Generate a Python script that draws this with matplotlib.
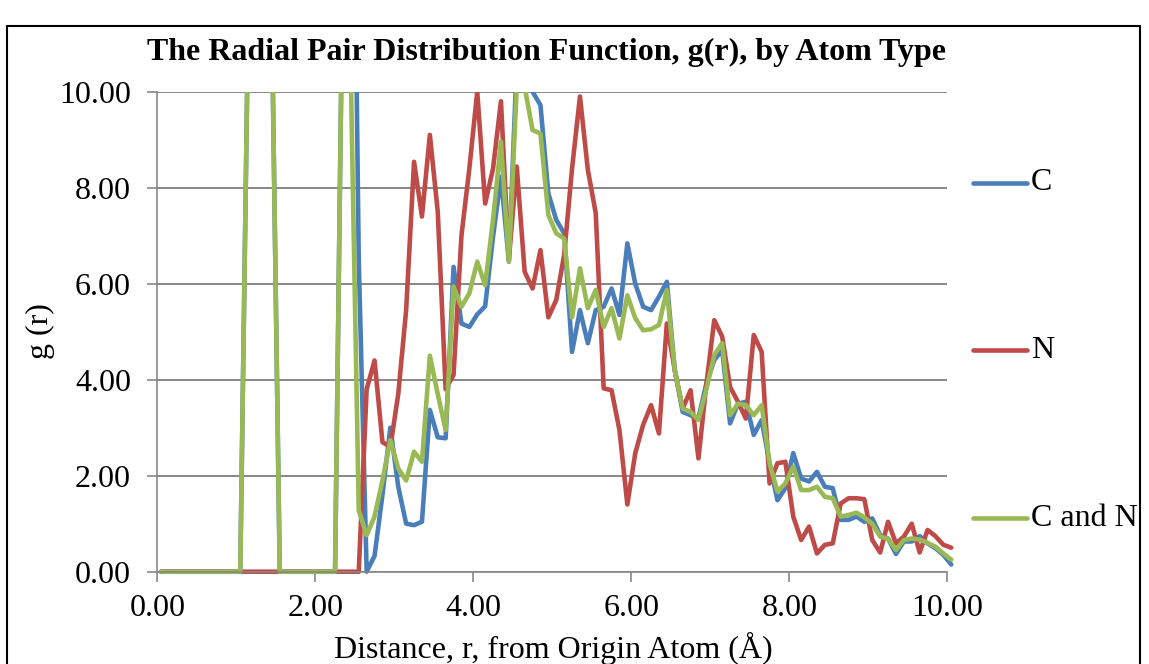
import matplotlib
matplotlib.use("Agg")
import matplotlib.pyplot as plt
from matplotlib.lines import Line2D
from matplotlib.patches import Rectangle

# ---- data ----
r = [0.05, 0.15, 0.25, 0.35, 0.45, 0.55, 0.65, 0.75, 0.85, 0.95,
     1.05, 1.15, 1.25, 1.35, 1.45, 1.55, 1.65, 1.75, 1.85, 1.95,
     2.05, 2.15, 2.25, 2.35, 2.45, 2.55, 2.65, 2.75, 2.85, 2.95,
     3.05, 3.15, 3.25, 3.35, 3.45, 3.55, 3.65, 3.75, 3.85, 3.95,
     4.05, 4.15, 4.25, 4.35, 4.45, 4.55, 4.65, 4.75, 4.85, 4.95,
     5.05, 5.15, 5.25, 5.35, 5.45, 5.55, 5.65, 5.75, 5.85, 5.95,
     6.05, 6.15, 6.25, 6.35, 6.45, 6.55, 6.65, 6.75, 6.85, 6.95,
     7.05, 7.15, 7.25, 7.35, 7.45, 7.55, 7.65, 7.75, 7.85, 7.95,
     8.05, 8.15, 8.25, 8.35, 8.45, 8.55, 8.65, 8.75, 8.85, 8.95,
     9.05, 9.15, 9.25, 9.35, 9.45, 9.55, 9.65, 9.75, 9.85, 9.95,
     10.05]

g_C = [0, 0, 0, 0, 0, 0, 0, 0, 0, 0,
       0, 11.5, 30.0, 30.0, 11.5, 0, 0, 0, 0, 0,
       0, 0, 0, 13.0, 20.0, 6.5, 0.0, 0.33, 1.6, 3.0,
       1.77, 1.0, 0.97, 1.04, 3.37, 2.8, 2.78, 6.35, 5.17, 5.1,
       5.36, 5.53, 6.98, 8.23, 6.46, 10.6, 10.5, 10.0, 9.72, 7.88,
       7.33, 7.05, 4.58, 5.45, 4.76, 5.45, 5.52, 5.9, 5.35, 6.84,
       6.0, 5.52, 5.45, 5.73, 6.04, 4.2, 3.33, 3.26, 3.2, 3.92,
       4.41, 4.62, 3.09, 3.5, 3.54, 2.85, 3.16, 2.26, 1.49, 1.74,
       2.47, 1.94, 1.88, 2.08, 1.77, 1.74, 1.08, 1.08, 1.15, 1.04,
       1.11, 0.76, 0.69, 0.37, 0.63, 0.63, 0.74, 0.59, 0.49, 0.35,
       0.15]

g_N = [0, 0, 0, 0, 0, 0, 0, 0, 0, 0,
       0, 0, 0, 0, 0, 0, 0, 0, 0, 0,
       0, 0, 0, 0, 0, 0, 3.8, 4.4, 2.7, 2.6,
       3.7, 5.45, 8.54, 7.4, 9.1, 7.5, 3.8, 4.1, 7.0, 8.4,
       10.0, 7.67, 8.4, 9.8, 6.5, 8.44, 6.25, 5.9, 6.7, 5.3,
       5.66, 6.6, 8.4, 9.9, 8.37, 7.47, 3.82, 3.78, 2.95, 1.4,
       2.47, 3.06, 3.47, 2.88, 5.17, 4.2, 3.4, 3.78, 2.36, 3.9,
       5.24, 4.9, 3.85, 3.54, 3.19, 4.93, 4.58, 1.84, 2.26, 2.29,
       1.15, 0.66, 0.94, 0.38, 0.56, 0.59, 1.42, 1.53, 1.53, 1.51,
       0.66, 0.4, 1.04, 0.59, 0.73, 1.0, 0.4, 0.87, 0.74, 0.56,
       0.5]

g_CN = [0, 0, 0, 0, 0, 0, 0, 0, 0, 0,
        0, 11.5, 30.0, 30.0, 11.5, 0, 0, 0, 0, 0,
        0, 0, 0, 13.0, 10.3, 1.28, 0.76, 1.15, 1.9, 2.74,
        2.15, 1.9, 2.5, 2.29, 4.5, 3.7, 2.95, 5.94, 5.52, 5.8,
        6.46, 5.97, 7.33, 8.96, 6.46, 10.1, 10.1, 9.2, 9.13, 7.43,
        7.05, 6.94, 5.3, 6.32, 5.49, 5.87, 5.1, 5.49, 4.86, 5.76,
        5.28, 5.03, 5.05, 5.14, 5.87, 4.2, 3.4, 3.33, 3.16, 3.8,
        4.51, 4.76, 3.26, 3.5, 3.47, 3.26, 3.47, 2.26, 1.67, 1.84,
        2.19, 1.7, 1.7, 1.77, 1.56, 1.53, 1.15, 1.18, 1.23, 1.13,
        1.0, 0.73, 0.69, 0.45, 0.66, 0.69, 0.67, 0.6, 0.52, 0.38,
        0.25]

series_labels = ["C", "N", "C and N"]
series_colors = ["#4A7EBB", "#BE4B48", "#98B954"]
x_ticks = [0, 2, 4, 6, 8, 10]
y_ticks = [0, 2, 4, 6, 8, 10]

title = "The Radial Pair Distribution Function, g(r), by Atom Type"
xlabel = "Distance, r, from Origin Atom (Å)"
ylabel = "g (r)"

# ---- figure ----
W, H = 1149, 664
fig = plt.figure(figsize=(W / 100, H / 100), dpi=100)
plt.rcParams["font.family"] = ["Liberation Serif", "DejaVu Serif"]
FS = 23

ax_l, ax_r = 157.3 / W, 947.3 / W
ax_t, ax_b = 1 - 91.7 / H, 1 - 571.7 / H
ax = fig.add_axes([ax_l, ax_b, ax_r - ax_l, ax_t - ax_b])

ax.set_xlim(0, 10)
ax.set_ylim(0, 10)
ax.set_yticks(y_ticks)
ax.set_xticks(x_ticks)
ax.set_xticklabels([f"{v:.2f}" for v in x_ticks])
ax.set_yticklabels([f"{v:.2f}" for v in y_ticks])
ax.tick_params(axis="both", labelsize=FS, colors="#878787", labelcolor="black",
               length=7, width=1.2, direction="out")
ax.tick_params(axis="x", pad=9)
ax.tick_params(axis="y", pad=12)

for s in ["top", "right"]:
    ax.spines[s].set_visible(False)
for s in ["left", "bottom"]:
    ax.spines[s].set_color("#878787")
    ax.spines[s].set_linewidth(1.2)

ax.grid(axis="y", color="#878787", linewidth=1.4)
ax.set_axisbelow(True)

clip = Rectangle((0, -0.03), 1.01, 1.03, transform=ax.transAxes, facecolor="none", edgecolor="none")
ax.add_patch(clip)
for ys, lab, col in zip([g_C, g_N, g_CN], series_labels, series_colors):
    ln, = ax.plot(r, ys, color=col, linewidth=3.3, label=lab,
                  solid_joinstyle="round", solid_capstyle="round")
    ln.set_clip_path(clip)

fig.text(546.5 / W, 1 - 52 / H, title, fontsize=FS, fontweight="bold",
         ha="center", va="center")
fig.text(553 / W, 1 - 648 / H, xlabel, fontsize=FS, ha="center", va="center")
fig.text(40 / W, 1 - 331 / H, ylabel, fontsize=FS, ha="center", va="center",
         rotation=90)

# legend drawn at its positions on the right
leg_y = [183, 350, 518]
for lab, col, yp in zip(series_labels, series_colors, leg_y):
    yf = 1 - yp / H
    fig.add_artist(Line2D([973 / W, 1027 / W], [yf, yf], color=col, linewidth=3.3,
                          solid_capstyle="round", transform=fig.transFigure))
    fig.text(1031 / W, yf, lab, fontsize=FS, va="center", ha="left")

# chart frame
fig.add_artist(Rectangle((7 / W, -0.1), (1140 - 7) / W, 1.1 - 26 / H, transform=fig.transFigure,
                         fill=False, edgecolor="black", linewidth=1.5))

fig.savefig("out.png", dpi=100, facecolor="white")
